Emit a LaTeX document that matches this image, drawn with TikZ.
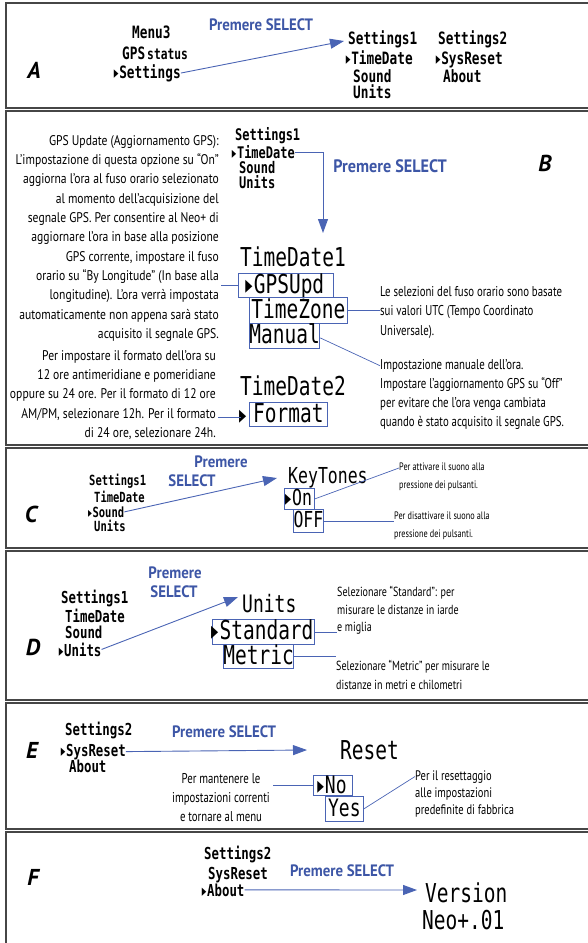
\documentclass[tikz,border=0pt]{standalone}
\usepackage{fontspec}
\usetikzlibrary{arrows.meta}
\newfontfamily\lcdf[FakeStretch=0.75]{DejaVu Sans Mono}
\newfontfamily\bodyf[FakeStretch=0.76]{PT Sans}
\newfontfamily\bodyw[FakeStretch=0.83]{PT Sans}
\newfontfamily\headf[FakeStretch=0.9]{PT Sans}
\newfontfamily\letf{PT Sans}
\newfontfamily\symf[FakeStretch=0.55]{DejaVu Sans}
\definecolor{selblue}{RGB}{61,86,166}
\definecolor{lnblue}{RGB}{74,100,180}
\definecolor{framec}{RGB}{70,70,70}
\newcommand\tri{\makebox[0.24em][l]{\kern-0.08em{\symf ▸}}}
\begin{document}
\begin{tikzpicture}[x=1pt,y=-1pt,
  panel/.style={draw=framec,line width=1.1pt},
  plabel/.style={font=\letf\fontsize{23}{23}\selectfont\bfseries\itshape,inner sep=0pt},
  lcd/.style={inner sep=0pt,anchor=base west,font=\lcdf\fontsize{#1}{#1}\selectfont,yshift={-0.3645*#1pt}},
  lcdS/.style={inner sep=0pt,anchor=base west,font=\lcdf\fontsize{#1}{#1}\selectfont\bfseries,yshift={-0.3645*#1pt}},
  lcdboxL/.style={draw=lnblue,line width=0.8pt,inner sep=0pt,anchor=north west,font=\lcdf\fontsize{26}{26}\selectfont,text height=19pt,text depth=3pt},
  lcdboxN/.style={draw=lnblue,line width=0.8pt,inner sep=0pt,anchor=north west,font=\lcdf\fontsize{24}{24}\selectfont,text height=17pt,text depth=1pt},
  lcdboxM/.style={draw=lnblue,line width=0.8pt,inner sep=0pt,anchor=north west,font=\lcdf\fontsize{22}{22}\selectfont,text height=16pt,text depth=2.5pt},
  sel/.style={font=\headf\fontsize{#1}{#1}\selectfont\bfseries,text=selblue,inner sep=0pt},
  body/.style args={#1/#2}{font=\bodyf\fontsize{#1}{#2}\selectfont,inner sep=0pt},
  bodyW/.style args={#1/#2}{font=\bodyw\fontsize{#1}{#2}\selectfont,inner sep=0pt},
  arr/.style={draw=lnblue,line width=0.9pt,-{Triangle[length=14pt,width=10pt]}},
  ln/.style={draw=lnblue,line width=0.7pt}]
\useasboundingbox (0,0) rectangle (588,943);
\clip (0,0) rectangle (588,943);
% panel frames
\draw[panel] (595,3) -- (6,3) -- (6,108) -- (595,108);
\draw[panel] (595,111) -- (6,111) -- (6,445) -- (595,445);
\draw[panel] (595,448) -- (6,448) -- (6,548) -- (595,548);
\draw[panel] (595,551) -- (6,551) -- (6,700) -- (595,700);
\draw[panel] (595,703) -- (6,703) -- (6,829) -- (595,829);
\draw[panel] (595,832) -- (6,832) -- (6,950);

% ---------- A ----------
\node[plabel] (labA) at (34,70) {A};
\node[lcdS=17] (menuA) at (132,32) {Menu3};
\node[lcdS=17] (gpsA) at (122,53) {GPS\kern2pt{\fontsize{15}{15}\selectfont status}};
\node[lcdS=17] (setA) at (115,72) {\tri Settings};
\node[sel=16.5] (premA) at (261,25) {Premere SELECT};
\node[lcdS=17] (s1A) at (348,38) {Settings1};
\node[lcdS=17] (tdA) at (347,58) {\tri TimeDate};
\node[lcdS=17] (sdA) at (353,76) {Sound};
\node[lcdS=17] (unA) at (353,92) {Units};
\node[lcdS=17] (s2A) at (438,38) {Settings2};
\node[lcdS=17] (srA) at (437,58) {\tri SysReset};
\node[lcdS=17] (abA) at (443,76) {About};
\coordinate (tipA) at (344,41);
\draw[arr] (setA.east) -- (tipA);

% ---------- B ----------
\node[plabel] (labB) at (545,163) {B};
\node[bodyW=14/19.3,align=right,anchor=north east] (para1) at (219,135.2) {GPS Update (Aggiornamento GPS):\\ L’impostazione di questa opzione su “On”\\ aggiorna l’ora al fuso orario selezionato\\ al momento dell’acquisizione del\\ segnale GPS. Per consentire al Neo+ di\\ aggiornare l’ora in base alla posizione\\ GPS corrente, impostare il fuso\\ orario su “By Longitude” (In base alla\\ longitudine). L’ora verrà impostata\\ automaticamente non appena sarà stato\\ acquisito il segnale GPS.};
\node[bodyW=14/19.3,align=right,anchor=north east] (para2) at (216,350.2) {Per impostare il formato dell’ora su\\ 12 ore antimeridiane e pomeridiane\\ oppure su 24 ore. Per il formato di 12 ore\\ AM/PM, selezionare 12h. Per il formato\\ di 24 ore, selezionare 24h.};
\node[lcdS=16] (s1B) at (235,135) {Settings1};
\node[lcdS=16] (tdB) at (233,153) {\tri TimeDate};
\node[lcdS=16] (sdB) at (239,168) {Sound};
\node[lcdS=16] (unB) at (239,183) {Units};
\coordinate (tipB) at (323,233);
\draw[arr] (tdB.east) -| (tipB);
\node[sel=18] (premB) at (390,166) {Premere SELECT};
\node[lcd=26] (td1) at (240,257) {TimeDate1};
\node[lcdboxL,minimum width=95pt,minimum height=24pt] (gpsBox) at (238,273) {\tri GPSUpd};
\node[lcdboxL,minimum width=98pt,minimum height=26pt] (tzBox) at (249,297) {TimeZone};
\node[lcdboxL,minimum width=68pt,minimum height=25pt] (manBox) at (249,323) {Manual};
\node[lcd=26] (td2) at (240,386) {TimeDate2};
\node[lcd=26] (fmtTri) at (241,414) {\tri};
\node[lcdboxL,minimum width=78pt,minimum height=24pt] (fmtBox) at (249,402) {Format};
\node[body=14.2/19.3,align=left,anchor=north west] (tzText) at (380,286.2) {Le selezioni del fuso orario sono basate\\ sui valori UTC (Tempo Coordinato\\ Universale).};
\node[body=14.2/19,align=left,anchor=north west] (manText) at (380,359.2) {Impostazione manuale dell’ora.\\ Impostare l’aggiornamento GPS su “Off”\\ per evitare che l’ora venga cambiata\\ quando è stato acquisito il segnale GPS.};
\draw[ln] ([xshift=2pt]para1.east |- gpsBox.west) -- (gpsBox.west);
\draw[ln] ([xshift=2pt]para2.east |- fmtTri.west) -- (fmtTri.west);
\draw[ln] (tzBox.east) -- (tzBox.east -| tzText.west);
\draw[ln] ([yshift=-2pt]manBox.east) -- ([yshift=-6.5pt]manText.north west);

% ---------- C ----------
\node[plabel] (labC) at (31,514) {C};
\node[lcdS=14] (s1C) at (89,480) {Settings1};
\node[lcdS=14] (tdC) at (94,497) {TimeDate};
\node[lcdS=14] (sdC) at (89,512) {\tri Sound};
\node[lcdS=14] (unC) at (94,526) {Units};
\node[sel=16.5] (premC1) at (221,462) {Premere};
\node[sel=16.5] (premC2) at (192,481) {SELECT};
\coordinate (tipC) at (277,478);
\draw[arr] (sdC.east) -- (tipC);
\node[lcd=22] (ktC) at (288,475) {KeyTones};
\node[lcdboxM,minimum width=30pt,minimum height=21pt] (onBox) at (284,488) {\tri On};
\node[lcdboxM,minimum width=30pt,minimum height=23pt] (offBox) at (293,509) {OFF};
\node[body=10.8/18,align=left,anchor=north west] (attText) at (399,463) {Per attivare il suono alla\\ pressione dei pulsanti.};
\node[body=10.8/18,align=left,anchor=north west] (disText) at (394,512) {Per disattivare il suono alla\\ pressione dei pulsanti.};
\draw[ln] (onBox.east) -- ([yshift=-5pt]attText.north west);
\draw[ln] (offBox.east) -- (offBox.east -| disText.west);

% ---------- D ----------
\node[plabel] (labD) at (33,647) {D};
\node[lcdS=16.5] (s1D) at (61,597) {Settings1};
\node[lcdS=16.5] (tdD) at (65,616) {TimeDate};
\node[lcdS=16.5] (sdD) at (65,632) {Sound};
\node[lcdS=16.5] (unD) at (60,650) {\tri Units};
\node[sel=16.5] (premD1) at (175,573) {Premere};
\node[sel=16.5] (premD2) at (174,592) {SELECT};
\coordinate (tipD) at (238,597);
\draw[arr] (unD.east) -- (tipD);
\node[lcd=24] (unitsD) at (242,604) {Units};
\node[lcdboxL,minimum width=102pt,minimum height=25pt] (stdBox) at (212,619) {\tri Standard};
\node[lcdboxL,minimum width=62pt,minimum height=24pt] (metBox) at (223,644) {Metric};
\node[body=13.2/17.5,align=left,anchor=north west] (stdText) at (337,586.5) {Selezionare “Standard”: per\\ misurare le distanze in iarde\\ e miglia};
\node[body=13.2/19,align=left,anchor=north west] (metText) at (336,660.5) {Selezionare “Metric” per misurare le\\ distanze in metri e chilometri};
\draw[ln] (stdBox.east) -- (stdBox.east -| stdText.west);
\draw[ln] (metBox.east) -- (metBox.east -| metText.west);

% ---------- E ----------
\node[plabel] (labE) at (32,750) {E};
\node[lcdS=16.5] (s2E) at (65,729) {Settings2};
\node[lcdS=16.5] (srE) at (62,750) {\tri SysReset};
\node[lcdS=16.5] (abE) at (69,766) {About};
\node[sel=16.5] (premE) at (224,732) {Premere SELECT};
\coordinate (tipE) at (307,750);
\draw[arr] (srE.east) -- (tipE);
\node[lcd=26] (resetE) at (340,750) {Reset};
\node[lcdboxN,minimum width=39pt,minimum height=20pt] (noBox) at (313,775) {\tri No};
\node[lcdboxN,minimum width=38pt,minimum height=25pt] (yesBox) at (325,796) {Yes};
\node[body=14.2/19,align=center,anchor=north] (keepText) at (221,773) {Per mantenere le\\ impostazioni correnti\\ e tornare al menu};
\node[body=13.8/17,align=left,anchor=north west] (rstText) at (415,770.5) {Per il resettaggio\\ alle impostazioni\\ predefinite di fabbrica};
\draw[ln] ([xshift=3pt]keepText.east |- noBox.west) -- (noBox.west);
\draw[ln] (yesBox.east) -- ([yshift=-6pt]rstText.north west);

% ---------- F ----------
\node[plabel] (labF) at (33,877) {F};
\node[lcdS=16.5] (s2F) at (204,853) {Settings2};
\node[lcdS=16.5] (srF) at (208,873) {SysReset};
\node[lcdS=16.5] (abF) at (203,890) {\tri About};
\node[sel=16.5] (premF) at (342,871) {Premere SELECT};
\coordinate (tipF) at (417,890);
\draw[arr] (abF.east) -- (tipF);
\node[lcd=26] (verF) at (425,893) {Version};
\node[lcd=26] (neoF) at (422,920) {Neo+.01};
\end{tikzpicture}
\end{document}
